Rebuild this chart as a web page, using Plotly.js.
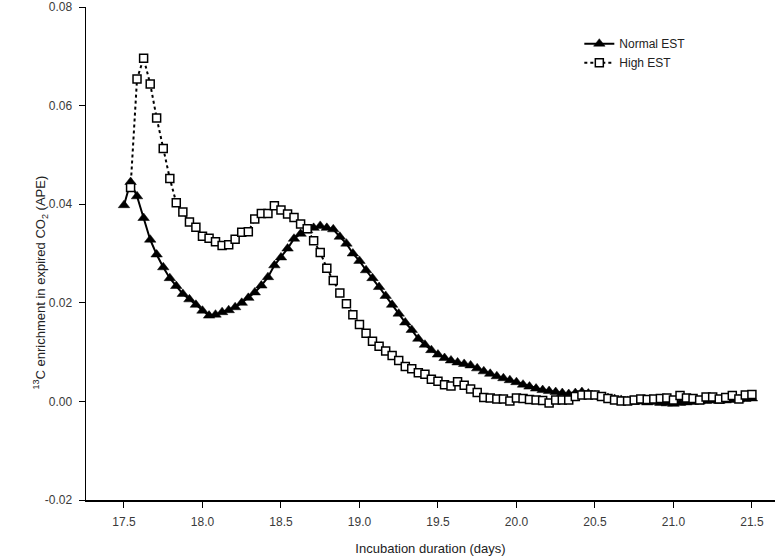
<!DOCTYPE html>
<html>
<head>
<meta charset="utf-8">
<script src="https://cdn.plot.ly/plotly-3.0.1.min.js"></script>
<style>
  html, body { margin: 0; padding: 0; background: #ffffff; }
  #chart { width: 779px; height: 558px; }
</style>
</head>
<body>
<div id="chart"></div>
<script>
// Incubation time (days), hourly sampling
const timeDays = [
  17.500, 17.542, 17.583, 17.625, 17.667, 17.708, 17.750, 17.792, 17.833, 17.875, 17.917, 17.958,
  18.000, 18.042, 18.083, 18.125, 18.167, 18.208, 18.250, 18.292, 18.333, 18.375, 18.417, 18.458,
  18.500, 18.542, 18.583, 18.625, 18.667, 18.708, 18.750, 18.792, 18.833, 18.875, 18.917, 18.958,
  19.000, 19.042, 19.083, 19.125, 19.167, 19.208, 19.250, 19.292, 19.333, 19.375, 19.417, 19.458,
  19.500, 19.542, 19.583, 19.625, 19.667, 19.708, 19.750, 19.792, 19.833, 19.875, 19.917, 19.958,
  20.000, 20.042, 20.083, 20.125, 20.167, 20.208, 20.250, 20.292, 20.333, 20.375, 20.417, 20.458,
  20.500, 20.542, 20.583, 20.625, 20.667, 20.708, 20.750, 20.792, 20.833, 20.875, 20.917, 20.958,
  21.000, 21.042, 21.083, 21.125, 21.167, 21.208, 21.250, 21.292, 21.333, 21.375, 21.417, 21.458,
  21.500
];

// Normal EST: 13C enrichment (APE), from 17.500 d
const normalEST = [
  0.0398, 0.0445, 0.0416, 0.0372, 0.0328, 0.0298, 0.0272, 0.0250, 0.0234, 0.0218, 0.0207, 0.0196,
  0.0184, 0.0174, 0.0176, 0.0181, 0.0185, 0.0191, 0.0200, 0.0210, 0.0221, 0.0235, 0.0252, 0.0276,
  0.0292, 0.0310, 0.0330, 0.0340, 0.0347, 0.0352, 0.0356, 0.0352, 0.0349, 0.0334, 0.0320, 0.0300,
  0.0285, 0.0266, 0.0250, 0.0232, 0.0214, 0.0196, 0.0178, 0.0160, 0.0145, 0.0127, 0.0115, 0.0104,
  0.0095, 0.0088, 0.0083, 0.0079, 0.0076, 0.0073, 0.0067, 0.0061, 0.0056, 0.0051, 0.0047, 0.0043,
  0.0039, 0.0034, 0.0030, 0.0026, 0.0023, 0.0021, 0.0019, 0.0017, 0.0015, 0.0017, 0.0019, 0.0016,
  0.0012, 0.0009, 0.0007, 0.0005, 0.0003, 0.0001, -0.0001, 0.0000, -0.0002, -0.0001, -0.0003, -0.0004,
  -0.0005, -0.0003, -0.0002, -0.0001, 0.0000, 0.0001, 0.0002, 0.0001, 0.0002, 0.0003, 0.0004, 0.0005,
  0.0006
];

// High EST: 13C enrichment (APE), from 17.542 d
const highEST = [
  0.0434, 0.0654, 0.0696, 0.0644, 0.0575, 0.0513, 0.0452, 0.0403, 0.0384, 0.0364, 0.0353,
  0.0335, 0.0331, 0.0324, 0.0316, 0.0318, 0.0329, 0.0343, 0.0344, 0.0370, 0.0381, 0.0381, 0.0397,
  0.0388, 0.0380, 0.0373, 0.0360, 0.0350, 0.0326, 0.0302, 0.0270, 0.0245, 0.0220, 0.0198, 0.0176,
  0.0156, 0.0138, 0.0122, 0.0112, 0.0102, 0.0093, 0.0083, 0.0071, 0.0066, 0.0058, 0.0055, 0.0045,
  0.0041, 0.0034, 0.0031, 0.0040, 0.0033, 0.0025, 0.0018, 0.0008, 0.0007, 0.0005, 0.0005, 0.0001,
  0.0007, 0.0006, 0.0004, 0.0003, 0.0002, -0.0003, 0.0003, 0.0003, 0.0003, 0.0010, 0.0013, 0.0013,
  0.0013, 0.0010, 0.0006, 0.0003, 0.0001, 0.0001, 0.0003, 0.0005, 0.0004, 0.0005, 0.0006, 0.0007,
  0.0003, 0.0012, 0.0007, 0.0006, 0.0003, 0.0009, 0.0009, 0.0005, 0.0008, 0.0012, 0.0005, 0.0013,
  0.0014
];
const highTime = timeDays.slice(1);

const seriesNames = ["Normal EST", "High EST"];
const xTickVals = [17.5, 18.0, 18.5, 19.0, 19.5, 20.0, 20.5, 21.0, 21.5];
const yTickVals = [-0.02, 0.00, 0.02, 0.04, 0.06, 0.08];
const xTitle = "Incubation duration (days)";
const yTitle = "<sup>13</sup>C enrichment in expired CO<sub>2</sub> (APE)";

const traces = [
  {
    x: timeDays, y: normalEST, name: seriesNames[0],
    type: "scatter", mode: "lines+markers",
    line: { color: "#000000", width: 2, dash: "solid" },
    marker: { symbol: "triangle-up", size: 10, color: "#000000", line: { color: "#000000", width: 0.5 } }
  },
  {
    x: highTime, y: highEST, name: seriesNames[1],
    type: "scatter", mode: "lines+markers",
    line: { color: "#000000", width: 2, dash: "dot" },
    marker: { symbol: "square", size: 8, color: "#ffffff", line: { color: "#000000", width: 1.5 } }
  }
];

const fontFam = "Liberation Sans, Arial, sans-serif";
const tickFont = { family: fontFam, size: 12, color: "#3a3a3a" };

const layout = {
  width: 779, height: 558,
  margin: { l: 86, r: 4, t: 7, b: 58 },
  paper_bgcolor: "#ffffff", plot_bgcolor: "#ffffff",
  showlegend: true,
  legend: {
    x: 0.716, y: 0.955, xanchor: "left", yanchor: "top",
    font: { family: fontFam, size: 12, color: "#222222" },
    bgcolor: "rgba(0,0,0,0)", tracegroupgap: 0, itemwidth: 30
  },
  xaxis: {
    range: [17.258, 21.647],
    tickvals: xTickVals, ticktext: xTickVals.map(v => v.toFixed(1)),
    ticks: "outside", ticklen: 6, tickwidth: 1, tickcolor: "#000000",
    ticklabelstandoff: 4,
    showline: true, linecolor: "#000000", linewidth: 1.5,
    showgrid: false, zeroline: false,
    tickfont: tickFont,
    title: { text: xTitle, font: { family: fontFam, size: 13, color: "#222222" }, standoff: 16 }
  },
  yaxis: {
    range: [-0.02, 0.08],
    tickvals: yTickVals, ticktext: yTickVals.map(v => v.toFixed(2)),
    ticks: "outside", ticklen: 6, tickwidth: 1, tickcolor: "#000000",
    ticklabelstandoff: 4,
    showline: true, linecolor: "#000000", linewidth: 1.5,
    showgrid: false, zeroline: false,
    tickfont: tickFont
  },
  annotations: [
    {
      text: yTitle, xref: "paper", yref: "paper",
      x: -0.066, y: 0.44, xanchor: "center", yanchor: "middle",
      textangle: -90, showarrow: false,
      font: { family: fontFam, size: 13, color: "#222222" }
    }
  ]
};

Plotly.newPlot("chart", traces, layout, { displayModeBar: false, staticPlot: true });
</script>
</body>
</html>
